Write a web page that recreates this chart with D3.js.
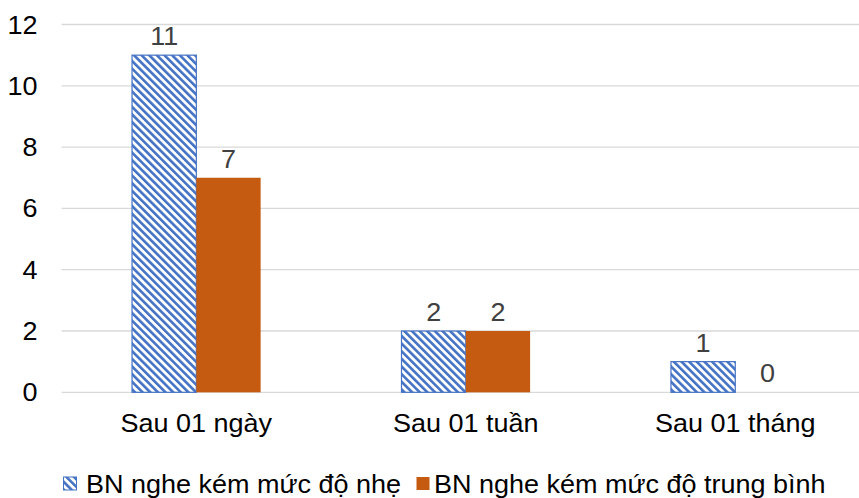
<!DOCTYPE html>
<html>
<head>
<meta charset="utf-8">
<script src="https://cdn.jsdelivr.net/npm/d3@7"></script>
<style>
  body { margin: 0; background: #fff; }
  text { font-family: "Liberation Sans", Arial, sans-serif; }
</style>
</head>
<body>
<div id="chart"></div>
<script>
// data
const categories = ["Sau 01 ngày", "Sau 01 tuần", "Sau 01 tháng"];
const seriesNames = ["BN nghe kém mức độ nhẹ", "BN nghe kém mức độ trung bình"];
const mildValues = [11, 2, 1];
const moderateValues = [7, 2, 0];
const yTicks = [0, 2, 4, 6, 8, 10, 12];

const W = 859, H = 498;
const plot = { left: 61.6, right: 870, top: 24.5, bottom: 392.3 };
const fs = 25, sx = 1.08;   // font size, slight horizontal stretch

const rows = categories.map((c, i) => ({
  cat: c,
  vals: [
    { key: 0, v: mildValues[i] },
    { key: 1, v: moderateValues[i] }
  ]
}));

const svg = d3.select("#chart").append("svg")
  .attr("width", W).attr("height", H);

// hatch pattern for the first series
const defs = svg.append("defs");
const pat = defs.append("pattern")
  .attr("id", "hatch")
  .attr("patternUnits", "userSpaceOnUse")
  .attr("width", 5.4).attr("height", 5.4)
  .attr("patternTransform", "rotate(-45)");
pat.append("rect").attr("width", 5.4).attr("height", 5.4).attr("fill", "#fff");
pat.append("rect").attr("width", 2.6).attr("height", 5.4).attr("fill", "#4472C4");

const fills = ["url(#hatch)", "#C55A11"];

const x0 = d3.scaleBand().domain(categories).range([plot.left, plot.right]);
const bw = x0.bandwidth();
const barW = 64.3;
const x1 = d3.scaleBand().domain([0, 1]).range([bw / 2 - barW, bw / 2 + barW]);
const y = d3.scaleLinear().domain([0, 12]).range([plot.bottom, plot.top]);

// gridlines
svg.append("g")
  .selectAll("line")
  .data(yTicks)
  .join("line")
  .attr("x1", plot.left).attr("x2", plot.right)
  .attr("y1", d => y(d)).attr("y2", d => y(d))
  .attr("stroke", "#D9D9D9").attr("stroke-width", 1.3);

// y tick labels
svg.append("g")
  .selectAll("text")
  .data(yTicks)
  .join("text")
  .attr("transform", d => `translate(37.5,${y(d)}) scale(${sx},1)`)
  .attr("dy", "0.36em")
  .attr("text-anchor", "end")
  .attr("font-size", fs)
  .attr("fill", "#000")
  .text(d => d);

// bars
const groups = svg.append("g")
  .selectAll("g")
  .data(rows)
  .join("g")
  .attr("transform", d => `translate(${x0(d.cat)},0)`);

groups.selectAll("rect")
  .data(d => d.vals)
  .join("rect")
  .attr("x", d => x1(d.key))
  .attr("width", x1.bandwidth())
  .attr("y", d => y(d.v))
  .attr("height", d => y(0) - y(d.v))
  .attr("fill", d => fills[d.key])
  .attr("stroke", d => d.key === 0 && d.v > 0 ? "#4472C4" : "none")
  .attr("stroke-width", 1.2);

// value labels
groups.selectAll("text")
  .data(d => d.vals)
  .join("text")
  .attr("transform", d => `translate(${x1(d.key) + x1.bandwidth() / 2},${y(d.v) - 10}) scale(${sx},1)`)
  .attr("text-anchor", "middle")
  .attr("font-size", fs)
  .attr("fill", "#404040")
  .text(d => d.v);

// category labels
svg.append("g")
  .selectAll("text")
  .data(categories)
  .join("text")
  .attr("transform", d => `translate(${x0(d) + bw / 2},432) scale(${sx},1)`)
  .attr("text-anchor", "middle")
  .attr("font-size", fs)
  .attr("fill", "#000")
  .text(d => d);

// legend
const legendPos = [{ mx: 63.5, tx: 86 }, { mx: 416.5, tx: 434 }];
const legend = svg.append("g")
  .selectAll("g")
  .data(seriesNames)
  .join("g");

legend.append("rect")
  .attr("x", (d, i) => legendPos[i].mx)
  .attr("y", 477)
  .attr("width", 13).attr("height", 13)
  .attr("fill", (d, i) => fills[i])
  .attr("stroke", (d, i) => i === 0 ? "#4472C4" : "none")
  .attr("stroke-width", 1);

legend.append("text")
  .attr("transform", (d, i) => `translate(${legendPos[i].tx},492.5) scale(${sx},1)`)
  .attr("font-size", fs)
  .attr("fill", "#000")
  .text(d => d);
</script>
</body>
</html>
